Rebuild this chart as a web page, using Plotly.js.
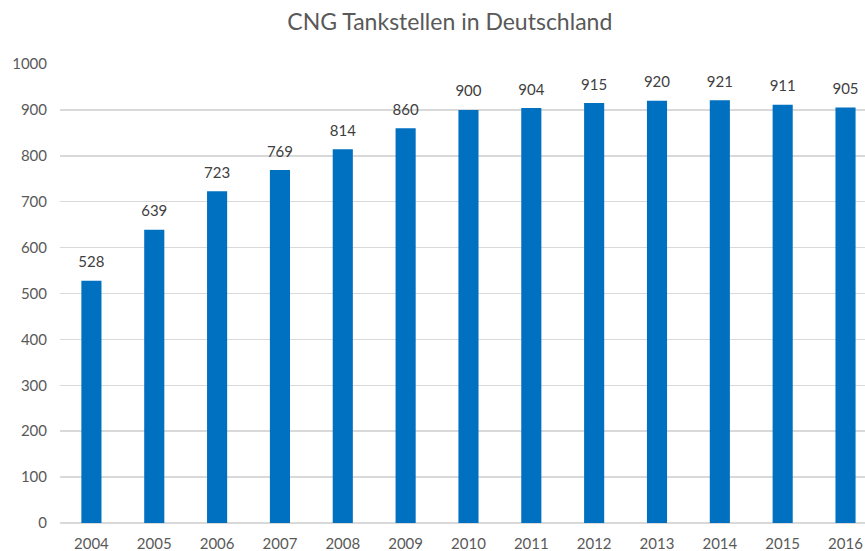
<!DOCTYPE html>
<html>
<head>
<meta charset="utf-8">
<script src="https://cdn.plot.ly/plotly-3.0.1.min.js"></script>
<style>html,body{margin:0;padding:0;background:#fff;}#chart{width:865px;height:551px;}</style>
</head>
<body>
<div id="chart"></div>
<script>
const years = ["2004","2005","2006","2007","2008","2009","2010","2011","2012","2013","2014","2015","2016"];
const stations = [528, 639, 723, 769, 814, 860, 900, 904, 915, 920, 921, 911, 905];
const yTicks = [0,100,200,300,400,500,600,700,800,900,1000];

const fontFam = "Lato, 'Open Sans', 'Liberation Sans', sans-serif";
const grey = "#595959";

Plotly.newPlot("chart", [{
  type: "bar",
  x: years,
  y: stations,
  width: 0.32,
  marker: {color: "#0070C0"},
  hoverinfo: "x+y"
}, {
  type: "scatter",
  mode: "markers+text",
  x: years,
  y: stations,
  text: stations.map(String),
  textposition: "top center",
  cliponaxis: false,
  marker: {size: 14, color: "rgba(0,0,0,0)"},
  textfont: {family: fontFam, size: 15, color: "#404040"},
  hoverinfo: "skip"
}], {
  width: 865, height: 551,
  margin: {l: 60, r: 0, t: 64, b: 28},
  paper_bgcolor: "#fff", plot_bgcolor: "#fff",
  title: {text: "CNG Tankstellen in Deutschland", x: 0.52, xanchor: "center", y: 0.96, yanchor: "middle",
          font: {family: fontFam, size: 23, color: grey}},
  showlegend: false,
  xaxis: {
    type: "category",
    range: [-0.5, 12.31],
    showgrid: false, zeroline: false, showline: false,
    ticks: "", tickfont: {family: fontFam, size: 15, color: grey},
    ticklabelstandoff: 10
  },
  yaxis: {
    range: [0, 1000],
    tickvals: yTicks,
    ticktext: yTicks.map(String),
    showgrid: true, gridcolor: "#d9d9d9", gridwidth: 1.5,
    zeroline: true, zerolinecolor: "#d9d9d9", zerolinewidth: 1.5,
    showline: false, ticks: "",
    tickfont: {family: fontFam, size: 15, color: grey},
    ticklabelstandoff: 12
  }
}, {displayModeBar: false, staticPlot: true});
</script>
</body>
</html>
